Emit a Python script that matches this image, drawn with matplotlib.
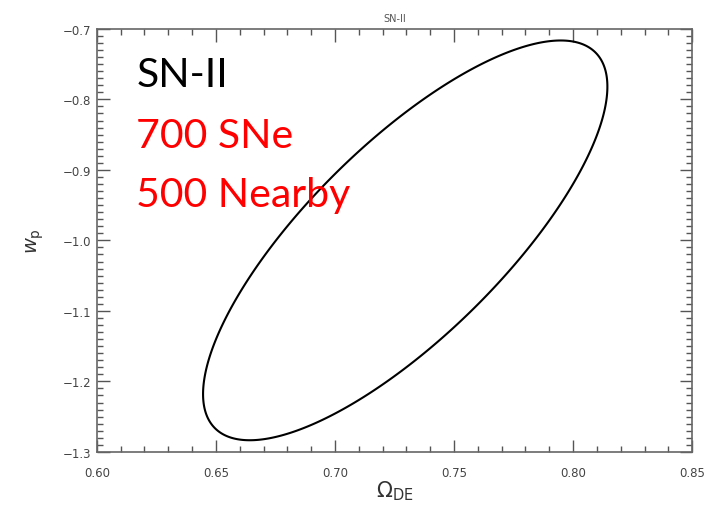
import numpy as np
import matplotlib
matplotlib.use('Agg')
import matplotlib.pyplot as plt
from matplotlib.ticker import MultipleLocator, FuncFormatter

# ellipse: centre and covariance of the 1-sigma contour
centre = [0.7295, -1.0]
cov = [[0.0849 ** 2, 0.01851],
       [0.01851, 0.2835 ** 2]]

title = 'SN-II'
notes = ['SN-II', '700 SNe', '500 Nearby']
note_colors = ['black', 'red', 'red']

fig = plt.figure(figsize=(7.07, 5.06), dpi=100)
ax = fig.add_axes([0.137, 0.105, 0.842, 0.836])

xs = np.linspace(0.60, 0.85, 600)
ys = np.linspace(-1.3, -0.7, 600)
X, Y = np.meshgrid(xs, ys)
icov = np.linalg.inv(np.array(cov))
dx = X - centre[0]
dy = Y - centre[1]
chi2 = icov[0, 0] * dx ** 2 + 2 * icov[0, 1] * dx * dy + icov[1, 1] * dy ** 2
ax.contour(X, Y, chi2, levels=[1.0], colors='black', linewidths=1.5)

ax.set_xlim(0.60, 0.85)
ax.set_ylim(-1.3, -0.7)
ax.xaxis.set_major_locator(MultipleLocator(0.05))
ax.xaxis.set_minor_locator(MultipleLocator(0.01))
ax.yaxis.set_major_locator(MultipleLocator(0.1))
ax.yaxis.set_minor_locator(MultipleLocator(0.01))
ax.xaxis.set_major_formatter(FuncFormatter(lambda v, p: '%.2f' % v))
ax.yaxis.set_major_formatter(FuncFormatter(lambda v, p: ('%.1f' % v).replace('-', '\u2212')))

ax.tick_params(which='both', direction='in', top=True, right=True,
               color='#555555', labelcolor='#444444', labelsize=8.5)
ax.tick_params(which='major', length=9, width=1)
ax.tick_params(which='minor', length=4.5, width=1)
ax.tick_params(axis='x', pad=10)
ax.tick_params(axis='y', pad=4)
for s in ax.spines.values():
    s.set_color('#666666')
    s.set_linewidth(1.2)

ax.set_title(title, fontsize=7, color='#555555', pad=6)
ax.set_xlabel(r'$\Omega_{\rm DE}$', fontsize=15, color='#333333', labelpad=0)
ax.set_ylabel(r'$w_{\rm p}$', fontsize=14, color='#333333', labelpad=12)

ypos = [0.865, 0.721, 0.582]
for t, c, yp in zip(notes, note_colors, ypos):
    ax.text(0.066, yp, t, transform=ax.transAxes, color=c, fontsize=29.5,
            family=['Lato', 'DejaVu Sans'], va='baseline', ha='left')

fig.savefig('out.png', dpi=100)
